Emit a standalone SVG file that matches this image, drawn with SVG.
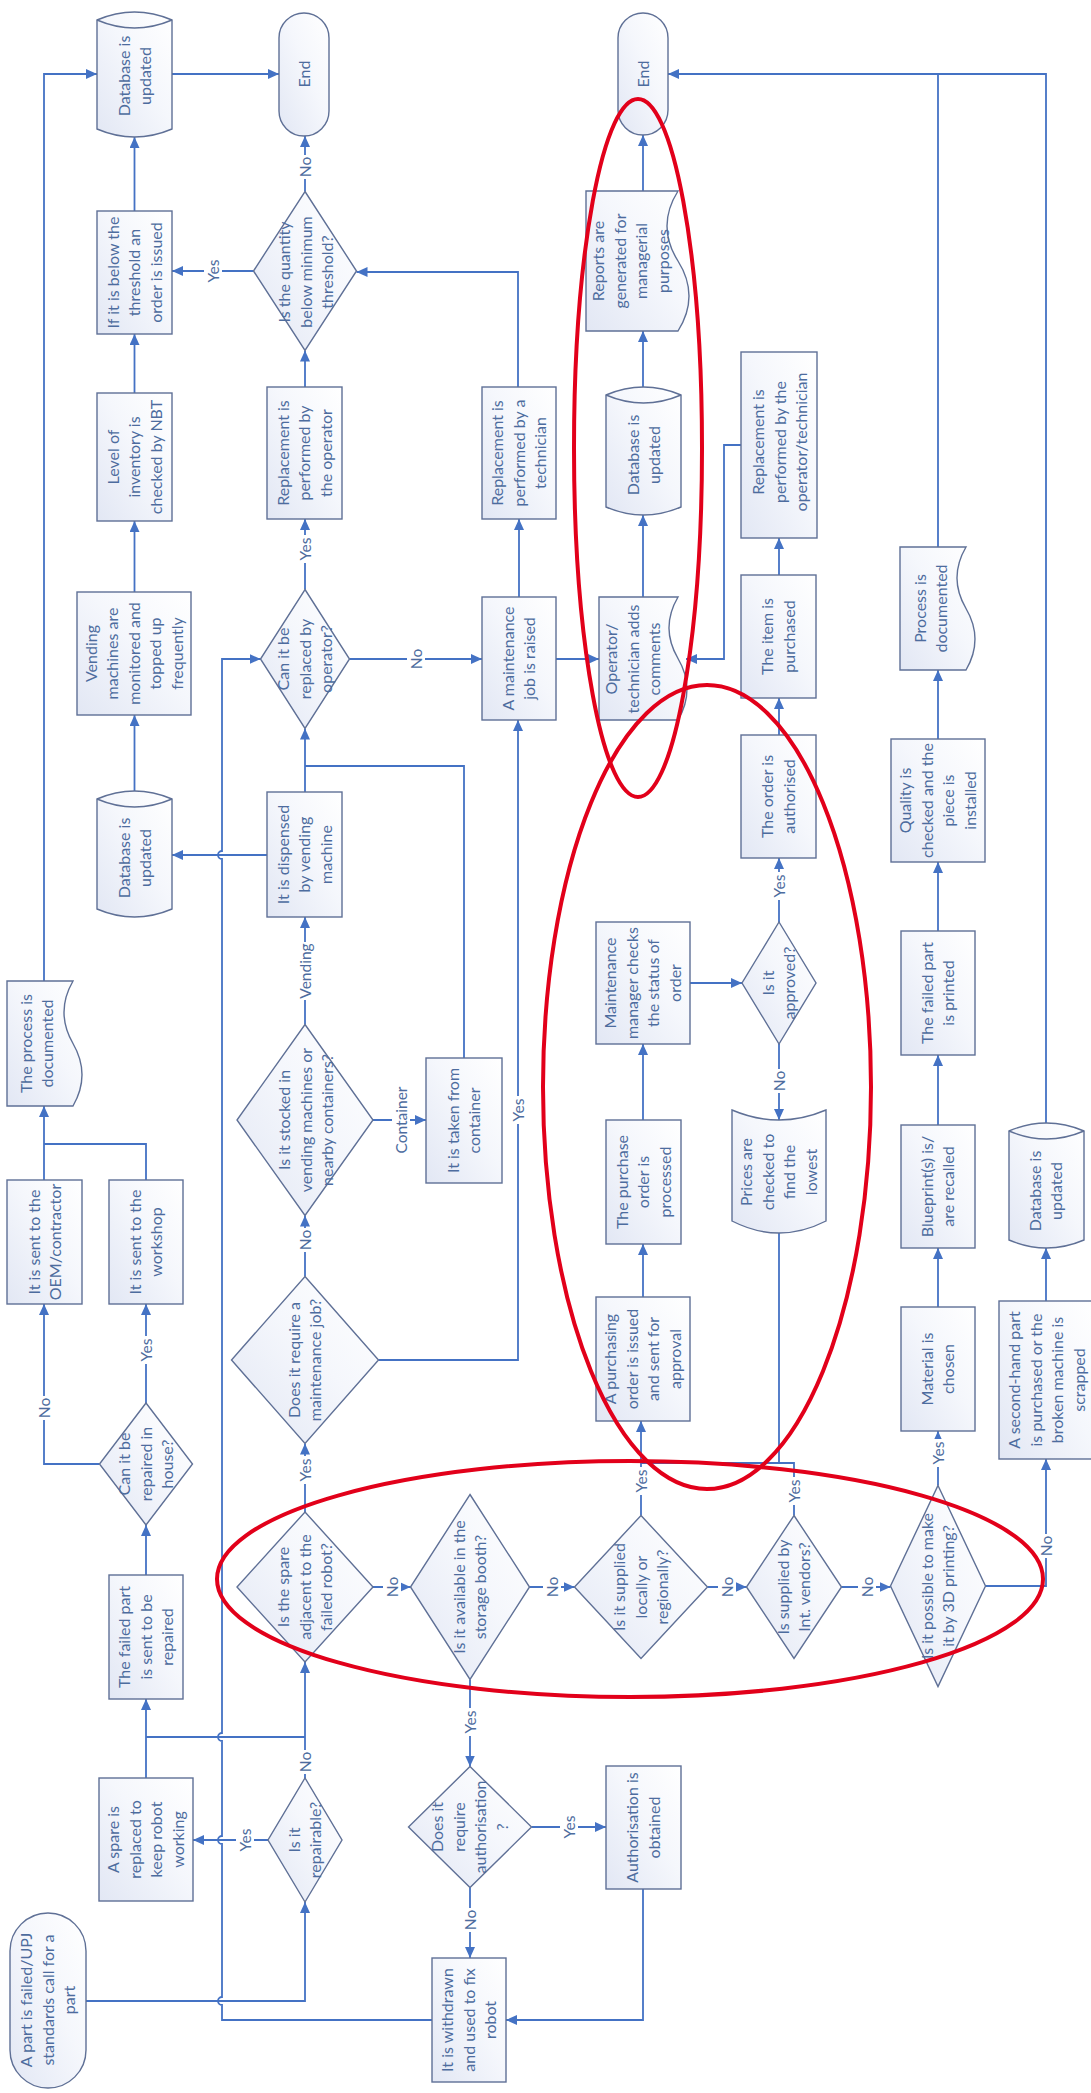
<svg xmlns="http://www.w3.org/2000/svg" width="1091" height="2093" viewBox="0 0 1091 2093">
<defs>
  <linearGradient id="g" x1="0" y1="1" x2="1" y2="0">
    <stop offset="0" stop-color="#e2e7f4"/>
    <stop offset="0.55" stop-color="#f5f7fc"/>
    <stop offset="1" stop-color="#ffffff"/>
  </linearGradient>
  <marker id="ah" viewBox="0 0 11 10" refX="11" refY="5" markerWidth="11" markerHeight="10" markerUnits="userSpaceOnUse" orient="auto">
    <path d="M0,0 L11,5 L0,10 z" fill="#4472c4"/>
  </marker>
  <style>
    .s { fill: url(#g); stroke: #5f7096; stroke-width: 1.4; }
    .in { fill: none; stroke: #5f7096; stroke-width: 1.4; }
    .c { fill: none; stroke: #4472c4; stroke-width: 1.8; }
    .a { marker-end: url(#ah); }
    .t { font-family: Lato, "Liberation Sans", sans-serif; font-size: 16px; fill: #4d6c9e; text-anchor: middle; }
    .lb text { font-size: 15.5px; }
    .lb rect { fill: #ffffff; }
    .ann { fill: none; stroke: #e2001a; stroke-width: 4; }
  </style>
</defs>
<rect width="1091" height="2093" fill="#ffffff"/>

<!-- connectors -->
<g id="connectors">
  <path class="c a" d="M44,981 V74 H97"/>
  <path class="c a" d="M172,74 H279"/>
  <path class="c a" d="M134.5,211 V137"/>
  <path class="c a" d="M134.5,393 V334"/>
  <path class="c a" d="M134.5,592 V521"/>
  <path class="c a" d="M134.5,791 V715"/>
  <path class="c a" d="M267,855 H172"/>
  <path class="c a" d="M253.5,271 H172"/>
  <path class="c a" d="M305,191.5 V136"/>
  <path class="c a" d="M305,387 V350.5"/>
  <path class="c a" d="M518,387 V272 H356.5"/>
  <path class="c a" d="M305,589.5 V519"/>
  <path class="c a" d="M305,792 V728.5"/>
  <path class="c" d="M464,1058 V766 H305"/>
  <path class="c a" d="M305,1024.5 V917"/>
  <path class="c a" d="M349.5,659 H482"/>
  <path class="c a" d="M519,597 V519"/>
  <path class="c a" d="M556,659 H599"/>
  <path class="c a" d="M643,597 V515"/>
  <path class="c a" d="M643,387 V331"/>
  <path class="c a" d="M643,191 V135"/>
  <path class="c a" d="M1046,1123 V74 H668"/>
  <path class="c" d="M938,547 V74"/>
  <path class="c a" d="M741,445 H724 V659 H686"/>
  <path class="c a" d="M779,575 V538"/>
  <path class="c a" d="M779,735 V698"/>
  <path class="c a" d="M779,922 V858"/>
  <path class="c a" d="M690,983 H742"/>
  <path class="c a" d="M779,1044 V1120"/>
  <path class="c a" d="M938,739 V670"/>
  <path class="c a" d="M938,931 V862"/>
  <path class="c a" d="M938,1125 V1055"/>
  <path class="c a" d="M938,1307 V1248"/>
  <path class="c a" d="M938,1485.5 V1431"/>
  <path class="c a" d="M1046,1301 V1248"/>
  <path class="c a" d="M985.5,1586 H1046 V1459"/>
  <path class="c" d="M779,1233 V1463"/>
  <path class="c" d="M794,1515.5 V1463 H641"/>
  <path class="c a" d="M641,1515.5 V1421"/>
  <path class="c a" d="M643,1297 V1244"/>
  <path class="c a" d="M643,1120 V1044"/>
  <path class="c" d="M146,1180 V1144 H44"/>
  <path class="c a" d="M44,1180 V1106"/>
  <path class="c a" d="M99.5,1464 H44 V1304"/>
  <path class="c a" d="M146,1403 V1304"/>
  <path class="c a" d="M146,1575 V1525"/>
  <path class="c a" d="M146,1778 V1699"/>
  <path class="c" d="M146,1737 H305"/>
  <path class="c a" d="M305,1778 V1662"/>
  <path class="c a" d="M268,1840 H193"/>
  <path class="c a" d="M86,2001 H305 V1902"/>
  <path class="c a" d="M432,2020 H222 V2005 A4,4 0 0 1 222,1997 V1844 A4,4 0 0 1 222,1836 V1741 A4,4 0 0 1 222,1733 V859 A4,4 0 0 1 222,851 V659 H260.5"/>
  <path class="c a" d="M305,1512 V1443.5"/>
  <path class="c a" d="M305,1276.5 V1215.5"/>
  <path class="c a" d="M373,1120 H426"/>
  <path class="c a" d="M378.5,1360 H518 V720"/>
  <path class="c a" d="M373,1587 H410.5"/>
  <path class="c a" d="M529.5,1587 H574.5"/>
  <path class="c a" d="M707.5,1587 H746.5"/>
  <path class="c a" d="M841.5,1587 H890.5"/>
  <path class="c a" d="M470,1679.5 V1766.5"/>
  <path class="c a" d="M531.5,1827 H606"/>
  <path class="c a" d="M470,1887.5 V1958"/>
  <path class="c a" d="M643,1889 V2020 H506"/>

  <!-- connector labels -->
  <g class="lb">
    <rect x="204" y="257" width="18" height="28"/><text class="t" transform="translate(213 271) rotate(-90)" y="5.5">Yes</text>
    <rect x="296" y="155" width="18" height="24"/><text class="t" transform="translate(305 167) rotate(-90)" y="5.5">No</text>
    <rect x="296" y="535" width="18" height="28"/><text class="t" transform="translate(305 549) rotate(-90)" y="5.5">Yes</text>
    <rect x="407" y="647" width="18" height="24"/><text class="t" transform="translate(416 659) rotate(-90)" y="5.5">No</text>
    <rect x="296" y="942" width="18" height="58"/><text class="t" transform="translate(305 971) rotate(-90)" y="5.5">Vending</text>
    <rect x="392" y="1085" width="18" height="70"/><text class="t" transform="translate(401 1120) rotate(-90)" y="5.5">Container</text>
    <rect x="509" y="1096" width="18" height="28"/><text class="t" transform="translate(518 1110) rotate(-90)" y="5.5">Yes</text>
    <rect x="296" y="1228" width="18" height="24"/><text class="t" transform="translate(305 1240) rotate(-90)" y="5.5">No</text>
    <rect x="296" y="1456" width="18" height="28"/><text class="t" transform="translate(305 1470) rotate(-90)" y="5.5">Yes</text>
    <rect x="35" y="1396" width="18" height="24"/><text class="t" transform="translate(44 1408) rotate(-90)" y="5.5">No</text>
    <rect x="137" y="1336" width="18" height="28"/><text class="t" transform="translate(146 1350) rotate(-90)" y="5.5">Yes</text>
    <rect x="296" y="1750" width="18" height="24"/><text class="t" transform="translate(305 1762) rotate(-90)" y="5.5">No</text>
    <rect x="236" y="1826" width="18" height="28"/><text class="t" transform="translate(245 1840) rotate(-90)" y="5.5">Yes</text>
    <rect x="383" y="1575" width="18" height="24"/><text class="t" transform="translate(392 1587) rotate(-90)" y="5.5">No</text>
    <rect x="543" y="1575" width="18" height="24"/><text class="t" transform="translate(552 1587) rotate(-90)" y="5.5">No</text>
    <rect x="718" y="1575" width="18" height="24"/><text class="t" transform="translate(727 1587) rotate(-90)" y="5.5">No</text>
    <rect x="858" y="1575" width="18" height="24"/><text class="t" transform="translate(867 1587) rotate(-90)" y="5.5">No</text>
    <rect x="461" y="1708" width="18" height="28"/><text class="t" transform="translate(470 1722) rotate(-90)" y="5.5">Yes</text>
    <rect x="560" y="1813" width="18" height="28"/><text class="t" transform="translate(569 1827) rotate(-90)" y="5.5">Yes</text>
    <rect x="461" y="1908" width="18" height="24"/><text class="t" transform="translate(470 1920) rotate(-90)" y="5.5">No</text>
    <rect x="632" y="1467" width="18" height="28"/><text class="t" transform="translate(641 1481) rotate(-90)" y="5.5">Yes</text>
    <rect x="785" y="1477" width="18" height="28"/><text class="t" transform="translate(794 1491) rotate(-90)" y="5.5">Yes</text>
    <rect x="929" y="1439" width="18" height="28"/><text class="t" transform="translate(938 1453) rotate(-90)" y="5.5">Yes</text>
    <rect x="1037" y="1534" width="18" height="24"/><text class="t" transform="translate(1046 1546) rotate(-90)" y="5.5">No</text>
    <rect x="770" y="872" width="18" height="28"/><text class="t" transform="translate(779 886) rotate(-90)" y="5.5">Yes</text>
    <rect x="770" y="1069" width="18" height="24"/><text class="t" transform="translate(779 1081) rotate(-90)" y="5.5">No</text>
  </g>
</g>

<!-- nodes -->
<g id="db-top-left">
  <path class="s" d="M97,20 Q134.5,4 172,20 V129 Q134.5,145 97,129 Z"/>
  <path class="in" d="M97,20 Q134.5,36 172,20"/>
  <text class="t" transform="translate(135 76) rotate(-90)"><tspan x="0" y="-5.25">Database is</tspan><tspan x="0" y="16.25">updated</tspan></text>
</g>
<g id="end-1">
  <rect class="s" x="279" y="13" width="50" height="123" rx="25"/>
  <text class="t" transform="translate(304 74) rotate(-90)" y="5.5">End</text>
</g>
<g id="order-issued">
  <rect class="s" x="97" y="211" width="75" height="123"/>
  <text class="t" transform="translate(134.5 272.5) rotate(-90)"><tspan x="0" y="-16">If it is below the</tspan><tspan x="0" y="5.5">threshold an</tspan><tspan x="0" y="27">order is issued</tspan></text>
</g>
<g id="inventory-check">
  <rect class="s" x="97" y="393" width="75" height="128"/>
  <text class="t" transform="translate(134.5 457) rotate(-90)"><tspan x="0" y="-16">Level of</tspan><tspan x="0" y="5.5">inventory is</tspan><tspan x="0" y="27">checked by NBT</tspan></text>
</g>
<g id="below-threshold">
  <polygon class="s" points="305,191.5 356.5,271 305,350.5 253.5,271"/>
  <text class="t" transform="translate(306 272) rotate(-90)"><tspan x="0" y="-16">Is the quantity</tspan><tspan x="0" y="5.5">below minimum</tspan><tspan x="0" y="27">threshold?</tspan></text>
</g>
<g id="replaced-operator">
  <rect class="s" x="267" y="387" width="75" height="132"/>
  <text class="t" transform="translate(304.5 453) rotate(-90)"><tspan x="0" y="-16">Replacement is</tspan><tspan x="0" y="5.5">performed by</tspan><tspan x="0" y="27">the operator</tspan></text>
</g>
<g id="end-2">
  <rect class="s" x="618" y="13" width="50" height="122" rx="25"/>
  <text class="t" transform="translate(643 74) rotate(-90)" y="5.5">End</text>
</g>
<g id="reports">
  <path class="s" d="M586,191 H678 Q656,226 678,261 Q700,296 678,331 H586 Z"/>
  <text class="t" transform="translate(631 261) rotate(-90)"><tspan x="0" y="-26.75">Reports are</tspan><tspan x="0" y="-5.25">generated for</tspan><tspan x="0" y="16.25">managerial</tspan><tspan x="0" y="37.75">purposes</tspan></text>
</g>
<g id="db-reports">
  <path class="s" d="M606,395 Q643.5,379 681,395 V507 Q643.5,523 606,507 Z"/>
  <path class="in" d="M606,395 Q643.5,411 681,395"/>
  <text class="t" transform="translate(644 455) rotate(-90)"><tspan x="0" y="-5.25">Database is</tspan><tspan x="0" y="16.25">updated</tspan></text>
</g>
<g id="replaced-technician">
  <rect class="s" x="482" y="387" width="74" height="132"/>
  <text class="t" transform="translate(519 453) rotate(-90)"><tspan x="0" y="-16">Replacement is</tspan><tspan x="0" y="5.5">performed by a</tspan><tspan x="0" y="27">technician</tspan></text>
</g>
<g id="replaced-op-tech">
  <rect class="s" x="741" y="352" width="76" height="186"/>
  <text class="t" transform="translate(780 442) rotate(-90)"><tspan x="0" y="-16">Replacement is</tspan><tspan x="0" y="5.5">performed by the</tspan><tspan x="0" y="27">operator/technician</tspan></text>
</g>
<g id="vending-monitored">
  <rect class="s" x="77" y="592" width="114" height="123"/>
  <text class="t" transform="translate(134 653.5) rotate(-90)"><tspan x="0" y="-37.5">Vending</tspan><tspan x="0" y="-16">machines are</tspan><tspan x="0" y="5.5">monitored and</tspan><tspan x="0" y="27">topped up</tspan><tspan x="0" y="48.5">frequently</tspan></text>
</g>
<g id="db-vending">
  <path class="s" d="M97,799 Q134.5,783 172,799 V909 Q134.5,925 97,909 Z"/>
  <path class="in" d="M97,799 Q134.5,815 172,799"/>
  <text class="t" transform="translate(135 858) rotate(-90)"><tspan x="0" y="-5.25">Database is</tspan><tspan x="0" y="16.25">updated</tspan></text>
</g>
<g id="operator-replace">
  <polygon class="s" points="305,589.5 349.5,659 305,728.5 260.5,659"/>
  <text class="t" transform="translate(305 659) rotate(-90)"><tspan x="0" y="-16">Can it be</tspan><tspan x="0" y="5.5">replaced by</tspan><tspan x="0" y="27">operator?</tspan></text>
</g>
<g id="dispensed">
  <rect class="s" x="267" y="792" width="75" height="125"/>
  <text class="t" transform="translate(304.5 854.5) rotate(-90)"><tspan x="0" y="-16">It is dispensed</tspan><tspan x="0" y="5.5">by vending</tspan><tspan x="0" y="27">machine</tspan></text>
</g>
<g id="job-raised">
  <rect class="s" x="482" y="597" width="74" height="123"/>
  <text class="t" transform="translate(519 658.5) rotate(-90)"><tspan x="0" y="-5.25">A maintenance</tspan><tspan x="0" y="16.25">job is raised</tspan></text>
</g>
<g id="comments">
  <path class="s" d="M599,597 H678 Q660,627.75 678,658.5 Q696,689.25 678,720 H599 Z"/>
  <text class="t" transform="translate(633 659) rotate(-90)"><tspan x="0" y="-16">Operator/</tspan><tspan x="0" y="5.5">technician adds</tspan><tspan x="0" y="27">comments</tspan></text>
</g>
<g id="manager-checks">
  <rect class="s" x="596" y="922" width="94" height="122"/>
  <text class="t" transform="translate(643 983) rotate(-90)"><tspan x="0" y="-26.75">Maintenance</tspan><tspan x="0" y="-5.25">manager checks</tspan><tspan x="0" y="16.25">the status of</tspan><tspan x="0" y="37.75">order</tspan></text>
</g>
<g id="item-purchased">
  <rect class="s" x="741" y="575" width="75" height="123"/>
  <text class="t" transform="translate(778.5 636.5) rotate(-90)"><tspan x="0" y="-5.25">The item is</tspan><tspan x="0" y="16.25">purchased</tspan></text>
</g>
<g id="order-authorised">
  <rect class="s" x="741" y="735" width="75" height="123"/>
  <text class="t" transform="translate(778.5 796.5) rotate(-90)"><tspan x="0" y="-5.25">The order is</tspan><tspan x="0" y="16.25">authorised</tspan></text>
</g>
<g id="approved">
  <polygon class="s" points="779,922 816,983 779,1044 742,983"/>
  <text class="t" transform="translate(779 983) rotate(-90)"><tspan x="0" y="-5.25">Is it</tspan><tspan x="0" y="16.25">approved?</tspan></text>
</g>
<g id="process-documented-right">
  <path class="s" d="M900,547 H966 Q948,577.75 966,608.5 Q984,639.25 966,670 H900 Z"/>
  <text class="t" transform="translate(931 608.5) rotate(-90)"><tspan x="0" y="-5.25">Process is</tspan><tspan x="0" y="16.25">documented</tspan></text>
</g>
<g id="quality">
  <rect class="s" x="891" y="739" width="94" height="123"/>
  <text class="t" transform="translate(938 800.5) rotate(-90)"><tspan x="0" y="-26.75">Quality is</tspan><tspan x="0" y="-5.25">checked and the</tspan><tspan x="0" y="16.25">piece is</tspan><tspan x="0" y="37.75">installed</tspan></text>
</g>
<g id="printed">
  <rect class="s" x="901" y="931" width="74" height="124"/>
  <text class="t" transform="translate(938 993) rotate(-90)"><tspan x="0" y="-5.25">The failed part</tspan><tspan x="0" y="16.25">is printed</tspan></text>
</g>
<g id="prices">
  <path class="s" d="M732,1110 Q779,1130 826,1110 V1221 Q779,1245 732,1221 Z"/>
  <text class="t" transform="translate(779 1172) rotate(-90)"><tspan x="0" y="-26.75">Prices are</tspan><tspan x="0" y="-5.25">checked to</tspan><tspan x="0" y="16.25">find the</tspan><tspan x="0" y="37.75">lowest</tspan></text>
</g>
<g id="blueprint">
  <rect class="s" x="901" y="1125" width="74" height="123"/>
  <text class="t" transform="translate(938 1186.5) rotate(-90)"><tspan x="0" y="-5.25">Blueprint(s) is/</tspan><tspan x="0" y="16.25">are recalled</tspan></text>
</g>
<g id="material">
  <rect class="s" x="901" y="1307" width="74" height="124"/>
  <text class="t" transform="translate(938 1369) rotate(-90)"><tspan x="0" y="-5.25">Material is</tspan><tspan x="0" y="16.25">chosen</tspan></text>
</g>
<g id="db-second-hand">
  <path class="s" d="M1009,1131 Q1046.5,1115 1084,1131 V1240 Q1046.5,1256 1009,1240 Z"/>
  <path class="in" d="M1009,1131 Q1046.5,1147 1084,1131"/>
  <text class="t" transform="translate(1046 1191) rotate(-90)"><tspan x="0" y="-5.25">Database is</tspan><tspan x="0" y="16.25">updated</tspan></text>
</g>
<g id="second-hand">
  <rect class="s" x="999" y="1301" width="94" height="158"/>
  <text class="t" transform="translate(1047 1380) rotate(-90)"><tspan x="0" y="-26.75">A second-hand part</tspan><tspan x="0" y="-5.25">is purchased or the</tspan><tspan x="0" y="16.25">broken machine is</tspan><tspan x="0" y="37.75">scrapped</tspan></text>
</g>
<g id="process-documented-left">
  <path class="s" d="M7,981 H73 Q55,1012.25 73,1043.5 Q91,1074.75 73,1106 H7 Z"/>
  <text class="t" transform="translate(37 1043.5) rotate(-90)"><tspan x="0" y="-5.25">The process is</tspan><tspan x="0" y="16.25">documented</tspan></text>
</g>
<g id="sent-oem">
  <rect class="s" x="7" y="1180" width="75" height="124"/>
  <text class="t" transform="translate(45 1242) rotate(-90)"><tspan x="0" y="-5.25">It is sent to the</tspan><tspan x="0" y="16.25">OEM/contractor</tspan></text>
</g>
<g id="sent-workshop">
  <rect class="s" x="109" y="1180" width="74" height="124"/>
  <text class="t" transform="translate(146 1242) rotate(-90)"><tspan x="0" y="-5.25">It is sent to the</tspan><tspan x="0" y="16.25">workshop</tspan></text>
</g>
<g id="in-house">
  <polygon class="s" points="146,1403 192.5,1464 146,1525 99.5,1464"/>
  <text class="t" transform="translate(146 1464) rotate(-90)"><tspan x="0" y="-16">Can it be</tspan><tspan x="0" y="5.5">repaired in</tspan><tspan x="0" y="27">house?</tspan></text>
</g>
<g id="stocked">
  <polygon class="s" points="305,1024.5 373,1120 305,1215.5 237,1120"/>
  <text class="t" transform="translate(306 1120) rotate(-90)"><tspan x="0" y="-16">Is it stocked in</tspan><tspan x="0" y="5.5">vending machines or</tspan><tspan x="0" y="27">nearby containers?</tspan></text>
</g>
<g id="from-container">
  <rect class="s" x="426" y="1058" width="76" height="125"/>
  <text class="t" transform="translate(464 1120.5) rotate(-90)"><tspan x="0" y="-5.25">It is taken from</tspan><tspan x="0" y="16.25">container</tspan></text>
</g>
<g id="maintenance-job">
  <polygon class="s" points="305,1276.5 378.5,1360 305,1443.5 231.5,1360"/>
  <text class="t" transform="translate(305 1360) rotate(-90)"><tspan x="0" y="-5.25">Does it require a</tspan><tspan x="0" y="16.25">maintenance job?</tspan></text>
</g>
<g id="start">
  <rect class="s" x="10" y="1913" width="76" height="175" rx="38"/>
  <text class="t" transform="translate(48 2000) rotate(-90)"><tspan x="0" y="-16">A part is failed/UPJ</tspan><tspan x="0" y="5.5">standards call for a</tspan><tspan x="0" y="27">part</tspan></text>
</g>
<g id="sent-repaired">
  <rect class="s" x="109" y="1575" width="74" height="124"/>
  <text class="t" transform="translate(146 1637) rotate(-90)"><tspan x="0" y="-16">The failed part</tspan><tspan x="0" y="5.5">is sent to be</tspan><tspan x="0" y="27">repaired</tspan></text>
</g>
<g id="spare-replaced">
  <rect class="s" x="99" y="1778" width="94" height="123"/>
  <text class="t" transform="translate(146 1839.5) rotate(-90)"><tspan x="0" y="-26.75">A spare is</tspan><tspan x="0" y="-5.25">replaced to</tspan><tspan x="0" y="16.25">keep robot</tspan><tspan x="0" y="37.75">working</tspan></text>
</g>
<g id="repairable">
  <polygon class="s" points="305,1778 342,1840 305,1902 268,1840"/>
  <text class="t" transform="translate(305 1840) rotate(-90)"><tspan x="0" y="-5.25">Is it</tspan><tspan x="0" y="16.25">repairable?</tspan></text>
</g>
<g id="spare-adjacent">
  <polygon class="s" points="305,1512 373,1587 305,1662 237,1587"/>
  <text class="t" transform="translate(305 1587) rotate(-90)"><tspan x="0" y="-16">Is the spare</tspan><tspan x="0" y="5.5">adjacent to the</tspan><tspan x="0" y="27">failed robot?</tspan></text>
</g>
<g id="storage-booth">
  <polygon class="s" points="470,1494.5 529.5,1587 470,1679.5 410.5,1587"/>
  <text class="t" transform="translate(470 1587) rotate(-90)"><tspan x="0" y="-5.25">Is it available in the</tspan><tspan x="0" y="16.25">storage booth?</tspan></text>
</g>
<g id="supplied-locally">
  <polygon class="s" points="641,1515.5 707.5,1587 641,1658.5 574.5,1587"/>
  <text class="t" transform="translate(641 1587) rotate(-90)"><tspan x="0" y="-16">Is it supplied</tspan><tspan x="0" y="5.5">locally or</tspan><tspan x="0" y="27">regionally?</tspan></text>
</g>
<g id="authorisation-needed">
  <polygon class="s" points="470,1766.5 531.5,1827 470,1887.5 408.5,1827"/>
  <text class="t" transform="translate(470 1827) rotate(-90)"><tspan x="0" y="-26.75">Does it</tspan><tspan x="0" y="-5.25">require</tspan><tspan x="0" y="16.25">authorisation</tspan><tspan x="0" y="37.75">?</tspan></text>
</g>
<g id="authorisation-obtained">
  <rect class="s" x="606" y="1766" width="75" height="123"/>
  <text class="t" transform="translate(643.5 1827.5) rotate(-90)"><tspan x="0" y="-5.25">Authorisation is</tspan><tspan x="0" y="16.25">obtained</tspan></text>
</g>
<g id="withdrawn">
  <rect class="s" x="432" y="1958" width="74" height="124"/>
  <text class="t" transform="translate(469 2020) rotate(-90)"><tspan x="0" y="-16">It is withdrawn</tspan><tspan x="0" y="5.5">and used to fix</tspan><tspan x="0" y="27">robot</tspan></text>
</g>
<g id="int-vendors">
  <polygon class="s" points="794,1515.5 841.5,1587 794,1658.5 746.5,1587"/>
  <text class="t" transform="translate(794 1587) rotate(-90)"><tspan x="0" y="-5.25">Is supplied by</tspan><tspan x="0" y="16.25">Int. vendors?</tspan></text>
</g>
<g id="printing-3d">
  <polygon class="s" points="938,1485.5 985.5,1586 938,1686.5 890.5,1586"/>
  <text class="t" transform="translate(938 1586) rotate(-90)"><tspan x="0" y="-5.25">Is it possible to make</tspan><tspan x="0" y="16.25">it by 3D printing?</tspan></text>
</g>
<g id="purchasing-order">
  <rect class="s" x="596" y="1297" width="94" height="124"/>
  <text class="t" transform="translate(643 1359) rotate(-90)"><tspan x="0" y="-26.75">A purchasing</tspan><tspan x="0" y="-5.25">order is issued</tspan><tspan x="0" y="16.25">and sent for</tspan><tspan x="0" y="37.75">approval</tspan></text>
</g>
<g id="order-processed">
  <rect class="s" x="606" y="1120" width="75" height="124"/>
  <text class="t" transform="translate(643.5 1182) rotate(-90)"><tspan x="0" y="-16">The purchase</tspan><tspan x="0" y="5.5">order is</tspan><tspan x="0" y="27">processed</tspan></text>
</g>

<!-- red highlight rings -->
<g id="highlights">
  <ellipse class="ann" cx="638" cy="448" rx="64" ry="349"/>
  <ellipse class="ann" cx="707" cy="1087" rx="164" ry="402"/>
  <ellipse class="ann" cx="630" cy="1579" rx="413" ry="118"/>
</g>
</svg>
